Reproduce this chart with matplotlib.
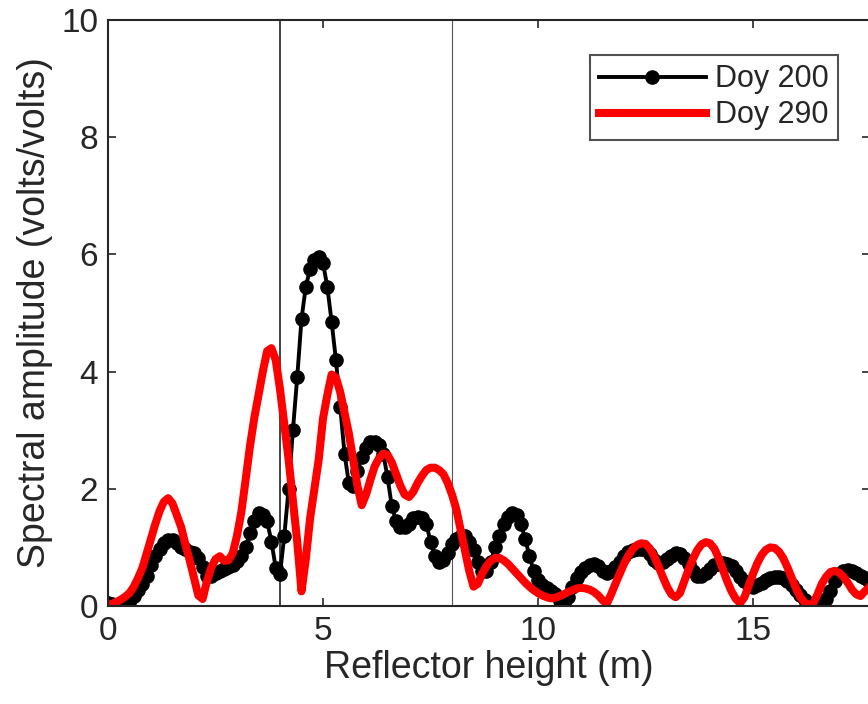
import numpy as np
import matplotlib
matplotlib.use('Agg')
import matplotlib.pyplot as plt

plt.rcParams['font.family'] = ['Liberation Sans', 'DejaVu Sans']

# sampling grid of reflector height (m), 0.1 m step
height = np.round(np.arange(0, 17.75, 0.1), 2)

doy200 = [0.05, 0.03, 0.02, 0.03, 0.06, 0.10, 0.17, 0.27, 0.37, 0.52,
          0.70, 0.85, 0.98, 1.08, 1.13, 1.12, 1.07, 1.00, 0.97, 0.93,
          0.90, 0.82, 0.67, 0.52, 0.52, 0.56, 0.60, 0.63, 0.66, 0.70,
          0.76, 0.85, 1.00, 1.25, 1.45, 1.58, 1.56, 1.45, 1.10, 0.65,
          0.55, 1.20, 2.00, 3.00, 3.90, 4.90, 5.45, 5.75, 5.90, 5.95,
          5.85, 5.45, 4.85, 4.20, 3.40, 2.60, 2.10, 2.05, 2.30, 2.55,
          2.70, 2.80, 2.80, 2.75, 2.60, 2.20, 1.70, 1.45, 1.35, 1.35,
          1.40, 1.50, 1.52, 1.50, 1.40, 1.10, 0.85, 0.75, 0.78, 0.90,
          1.05, 1.15, 1.20, 1.20, 1.10, 0.95, 0.75, 0.60, 0.60, 0.75,
          1.00, 1.20, 1.40, 1.52, 1.58, 1.55, 1.40, 1.15, 0.85, 0.60,
          0.45, 0.35, 0.30, 0.25, 0.20, 0.08, 0.03, 0.15, 0.33, 0.48,
          0.58, 0.65, 0.70, 0.72, 0.68, 0.60, 0.56, 0.60, 0.66, 0.75,
          0.85, 0.92, 0.96, 0.98, 0.98, 0.95, 0.88, 0.78, 0.74, 0.75,
          0.80, 0.86, 0.90, 0.88, 0.82, 0.72, 0.60, 0.52, 0.52, 0.57,
          0.63, 0.70, 0.72, 0.73, 0.72, 0.68, 0.60, 0.50, 0.42, 0.36,
          0.33, 0.35, 0.40, 0.45, 0.48, 0.50, 0.50, 0.47, 0.42, 0.35,
          0.27, 0.18, 0.10, 0.04, 0.00, 0.02, 0.06, 0.12, 0.25, 0.42,
          0.55, 0.60, 0.62, 0.60, 0.57, 0.52, 0.47, 0.42]

doy290 = [0.02, 0.04, 0.07, 0.11, 0.16, 0.22, 0.33, 0.48, 0.65, 0.90,
          1.15, 1.40, 1.62, 1.78, 1.84, 1.75, 1.55, 1.35, 1.05, 0.78,
          0.48, 0.18, 0.12, 0.42, 0.65, 0.80, 0.85, 0.77, 0.78, 0.90,
          1.20, 1.60, 2.15, 2.72, 3.20, 3.60, 4.00, 4.35, 4.40, 4.20,
          3.70, 3.10, 2.50, 1.80, 1.10, 0.25, 0.80, 1.50, 2.00, 2.50,
          3.20, 3.60, 3.95, 3.90, 3.65, 3.30, 2.95, 2.50, 2.05, 1.72,
          1.90, 2.15, 2.38, 2.52, 2.60, 2.58, 2.45, 2.25, 2.05, 1.90,
          1.86, 1.95, 2.10, 2.22, 2.32, 2.36, 2.36, 2.32, 2.25, 2.10,
          1.90, 1.65, 1.30, 0.95, 0.60, 0.33, 0.38, 0.55, 0.68, 0.77,
          0.82, 0.82, 0.78, 0.72, 0.64, 0.56, 0.48, 0.40, 0.33, 0.27,
          0.22, 0.18, 0.15, 0.13, 0.14, 0.17, 0.20, 0.24, 0.27, 0.30,
          0.31, 0.30, 0.28, 0.24, 0.18, 0.10, 0.04, 0.20, 0.38, 0.55,
          0.72, 0.86, 0.97, 1.04, 1.07, 1.06, 0.98, 0.85, 0.68, 0.50,
          0.33, 0.20, 0.15, 0.22, 0.42, 0.62, 0.80, 0.95, 1.05, 1.09,
          1.07, 0.98, 0.82, 0.62, 0.42, 0.25, 0.12, 0.05, 0.15, 0.35,
          0.55, 0.73, 0.87, 0.96, 1.00, 0.99, 0.93, 0.82, 0.66, 0.48,
          0.30, 0.15, 0.06, 0.02, 0.04, 0.20, 0.38, 0.50, 0.58, 0.60,
          0.57, 0.50, 0.40, 0.28, 0.20, 0.17, 0.25, 0.32]

vlines = [4, 8]


def main():
    fig = plt.figure(figsize=(8.68, 7.04), dpi=100)
    ax = fig.add_axes([108 / 868, 1 - 606 / 704, 762 / 868, 586 / 704])

    ax.plot(height, doy200, '-o', color='black', lw=2.8, markersize=9.5, label='Doy 200')
    ax.plot(height, doy290, '-', color='red', lw=5.8, label='Doy 290')
    ax.axvline(vlines[0], color='#333333', lw=1.3, zorder=0)
    ax.axvline(vlines[1], color='#555555', lw=0.8, zorder=0)

    ax.set_xlim(0, 17.72)
    ax.set_ylim(0, 10)
    ax.set_xticks([0, 5, 10, 15])
    ax.set_yticks([0, 2, 4, 6, 8, 10])
    ax.tick_params(direction='in', length=6, width=1.2, top=True, right=True,
                   labelsize=24, colors='#262626', pad=7)
    for s in ax.spines.values():
        s.set_linewidth(1.5)
        s.set_color('#262626')
    ax.set_xlabel('Reflector height (m)', fontsize=27, color='#262626', labelpad=2)
    ax.set_ylabel('Spectral amplitude (volts/volts)', fontsize=27, color='#262626', labelpad=6)

    leg = ax.legend(loc='upper right', bbox_to_anchor=(0.958, 0.940), fontsize=22,
                    handlelength=3.5, frameon=True, fancybox=False, borderpad=0.3,
                    labelspacing=0.2, handletextpad=0.3, borderaxespad=0)
    leg.get_frame().set_edgecolor('#262626')
    leg.get_frame().set_linewidth(1.5)
    for t in leg.get_texts():
        t.set_color('#262626')

    fig.savefig('out.png', dpi=100)


if __name__ == "__main__":
    main()
